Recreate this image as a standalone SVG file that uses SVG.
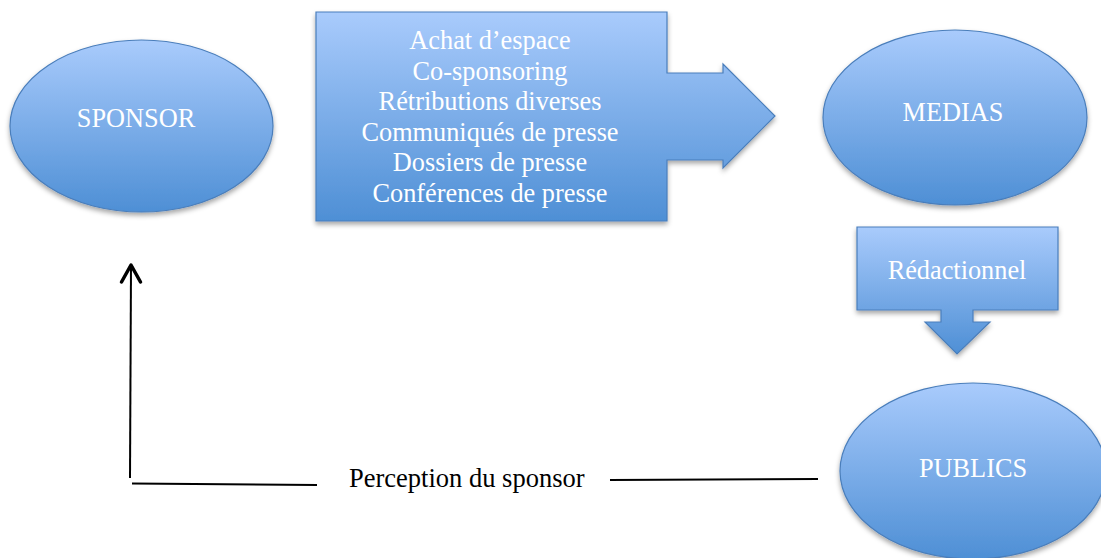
<svg xmlns="http://www.w3.org/2000/svg" width="1101" height="558" viewBox="0 0 1101 558">
<style>
.shape{fill:url(#g);stroke:#4a7ebb;stroke-width:1.2;filter:url(#sh)}
.wt{font-family:"Liberation Serif","Times New Roman",serif;font-size:26.3px;fill:#ffffff;text-anchor:middle}
.bt{font-family:"Liberation Serif","Times New Roman",serif;font-size:26.5px;fill:#000000}
.ln{stroke:#000;stroke-width:2;fill:none}
</style>
<defs>
<linearGradient id="g" x1="0" y1="0" x2="0" y2="1">
<stop offset="0" stop-color="#a9cbfc"/>
<stop offset="1" stop-color="#4e8fd5"/>
</linearGradient>
<filter id="sh" x="-10%" y="-10%" width="120%" height="130%">
<feDropShadow dx="0" dy="3" stdDeviation="2.5" flood-color="#000" flood-opacity="0.35"/>
</filter>
<marker id="ah" viewBox="0 0 24 24" refX="12" refY="4" markerWidth="24" markerHeight="24" markerUnits="userSpaceOnUse" orient="auto">
<polyline points="4,21 12,4 20,21" fill="none" stroke="#000" stroke-width="3.5" stroke-linecap="round" stroke-linejoin="round" transform="rotate(90 12 12)"/>
</marker>
</defs>
<g id="sponsor">
<ellipse class="shape" cx="141.5" cy="126" rx="131.5" ry="86"/>
<text class="wt" x="136" y="127">SPONSOR</text>
</g>
<g id="arrow-actions">
<path class="shape" d="M316,12 H667 V73 H723 V64 L775,116 L723,168 V160 H667 V221 H316 Z"/>
<text class="wt" x="490" y="49">Achat d’espace</text>
<text class="wt" x="490" y="79.5">Co-sponsoring</text>
<text class="wt" x="490" y="110">Rétributions diverses</text>
<text class="wt" x="490" y="140.5">Communiqués de presse</text>
<text class="wt" x="490" y="171">Dossiers de presse</text>
<text class="wt" x="490" y="201.5">Conférences de presse</text>
</g>
<g id="medias">
<ellipse class="shape" cx="955" cy="117.5" rx="132" ry="87.5"/>
<text class="wt" x="953" y="121">MEDIAS</text>
</g>
<g id="redactionnel">
<path class="shape" d="M857,227 H1058 V310 H973 V322 H990 L957,354 L925,322 H941 V310 H857 Z"/>
<text class="wt" x="957" y="279">Rédactionnel</text>
</g>
<g id="publics">
<ellipse class="shape" cx="973" cy="471" rx="133" ry="88"/>
<text class="wt" x="973" y="477">PUBLICS</text>
</g>
<g id="connectors">
<line class="ln" x1="130" y1="478" x2="131" y2="266"/>
<polyline points="121.5,282 131,265 140.5,282" fill="none" stroke="#000" stroke-width="3.5" stroke-linecap="round" stroke-linejoin="round"/>
<line class="ln" x1="132" y1="483.5" x2="317" y2="485"/>
<line class="ln" x1="610" y1="480" x2="818" y2="479"/>
</g>
<g id="label">
<text class="bt" x="349" y="487">Perception du sponsor</text>
</g>
</svg>
